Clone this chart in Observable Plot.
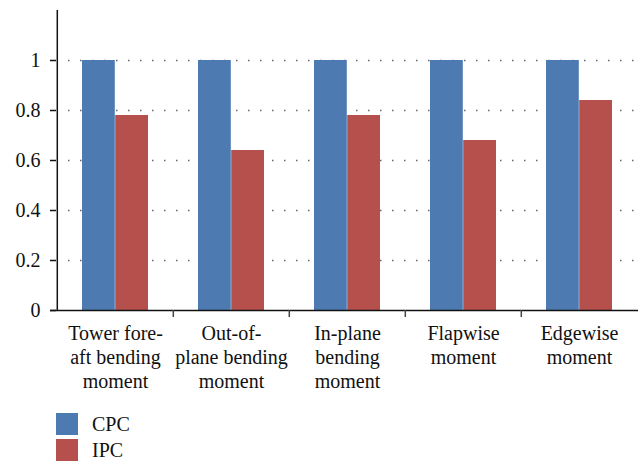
<!DOCTYPE html>
<html>
<head>
<meta charset="utf-8">
<script src="https://cdn.jsdelivr.net/npm/d3@7"></script>
<script src="https://cdn.jsdelivr.net/npm/@observablehq/plot@0.6"></script>
<style>
  body { margin: 0; background: #fff; }
  #chart { position: relative; width: 642px; height: 462px; font-family: "Liberation Serif", serif; }
  #chart svg, #chart svg text, #chart svg tspan { font-family: "Liberation Serif", serif !important; }
  .legend { position: absolute; left: 56px; top: 413px; }
  .legend .row { display: flex; align-items: center; height: 22px; margin-bottom: 4px; font-size: 20px; color: #111; }
  .legend .sw { width: 22px; height: 22px; margin-right: 14px; }
</style>
</head>
<body>
<div id="chart"></div>
<script>
const categories = ["Tower fore-aft bending moment", "Out-of-plane bending moment", "In-plane bending moment", "Flapwise moment", "Edgewise moment"];
const tickLabels = ["Tower fore-\naft bending\nmoment", "Out-of-\nplane bending\nmoment", "In-plane\nbending\nmoment", "Flapwise\nmoment", "Edgewise\nmoment"];
const series = ["CPC", "IPC"];
const colors = ["#4e7ab2", "#b5504d"];
const cpcValues = [1, 1, 1, 1, 1];
const ipcValues = [0.78, 0.64, 0.78, 0.68, 0.84];
const yTicks = [0, 0.2, 0.4, 0.6, 0.8, 1];
const yDomain = [0, 1.2];

const data = [];
categories.forEach((c, i) => {
  data.push({category: c, series: "CPC", value: cpcValues[i]});
  data.push({category: c, series: "IPC", value: ipcValues[i]});
});

const width = 642, height = 400;
const mL = 56, mR = 4;
const bw = (width - mL - mR) / categories.length;
const outer = 25;
const font = "Liberation Serif";

const labelMap = new Map(categories.map((c, i) => [c, tickLabels[i]]));

const plot = Plot.plot({
  width, height,
  marginLeft: mL, marginRight: mR, marginTop: 10, marginBottom: 90,
  style: {fontFamily: "'Liberation Serif', serif", fontSize: "20px", color: "#111", background: "#fff"},
  x: {domain: categories, padding: 0, axis: null},
  y: {domain: yDomain, axis: null},
  color: {domain: series, range: colors},
  marks: [
    Plot.gridY(yTicks.slice(1), {stroke: "#666", strokeOpacity: 1, strokeWidth: 1.5, strokeDasharray: "1.5,10.5", insetLeft: 12}),
    Plot.barY(data.filter(d => d.series === "CPC"), {x: "category", y: "value", fill: "series", insetLeft: outer, insetRight: bw / 2}),
    Plot.barY(data.filter(d => d.series === "IPC"), {x: "category", y: "value", fill: "series", insetLeft: bw / 2, insetRight: outer}),
    Plot.axisY(yTicks, {tickSize: 6, tickPadding: 10, tickFormat: d3.format("~g"), label: null, fontFamily: font, fontSize: 20, stroke: "#111", strokeWidth: 1.5}),
    Plot.ruleX([categories[0]], {x: d => d, y1: yDomain[0], y2: yDomain[1], dx: -bw / 2, stroke: "#111", strokeWidth: 1.5}),
    Plot.ruleY([0], {stroke: "#111", strokeWidth: 1.5, insetLeft: -6}),
    Plot.axisX(categories.slice(1), {tickSize: 7, dx: -bw / 2, tickFormat: () => "", label: null, stroke: "#444", strokeWidth: 1.5}),
    Plot.axisX(categories, {tickSize: 0, tickPadding: 12, tickFormat: d => labelMap.get(d), label: null, lineHeight: 1.2, fontFamily: font, fontSize: 20, fill: "#111"})
  ]
});

const chart = document.getElementById("chart");
chart.appendChild(plot);
const legend = document.createElement("div");
legend.className = "legend";
series.forEach((s, i) => {
  const row = document.createElement("div");
  row.className = "row";
  const sw = document.createElement("div");
  sw.className = "sw";
  sw.style.background = colors[i];
  const t = document.createElement("span");
  t.textContent = s;
  row.appendChild(sw);
  row.appendChild(t);
  legend.appendChild(row);
});
chart.appendChild(legend);
</script>
</body>
</html>
